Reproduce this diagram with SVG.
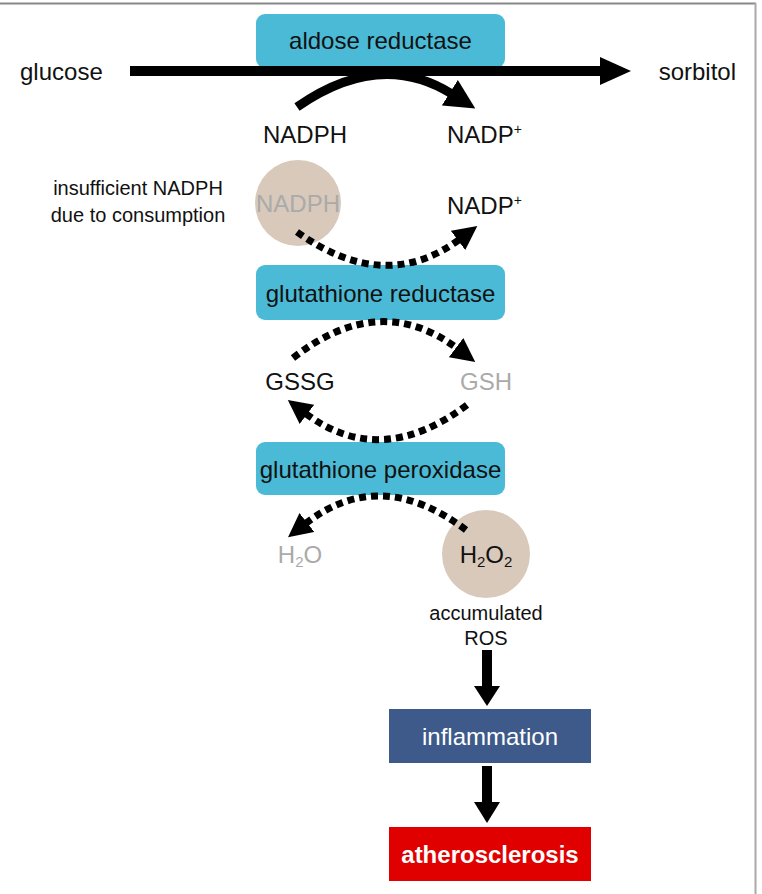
<svg xmlns="http://www.w3.org/2000/svg" width="762" height="894" viewBox="0 0 762 894">
<defs>
<style>
text{font-family:"Liberation Sans",Arial,sans-serif;fill:#111}
.lbl{font-size:24px}
.sm{font-size:20px}
.gray{fill:#aaa}
.enz{fill:#4bbad6}
.dot{fill:none;stroke:#000;stroke-width:7;stroke-dasharray:7 5}
.solid{fill:none;stroke:#000;stroke-width:9}
.circ{fill:#d8c9bb}
</style>
<marker id="ah" markerUnits="userSpaceOnUse" markerWidth="30" markerHeight="30" viewBox="0 0 24 24" refX="2" refY="12" orient="auto">
<path d="M0,0 L24,12 L0,24 z" fill="#000"/>
</marker>
<marker id="ahd" markerUnits="userSpaceOnUse" markerWidth="24" markerHeight="24" viewBox="0 0 20 20" refX="2" refY="10" orient="auto">
<path d="M0,0 L20,10 L0,20 z" fill="#000"/>
</marker>
</defs>
<rect width="762" height="894" fill="#fff"/>
<line x1="0" y1="3.5" x2="756" y2="3.5" stroke="#888" stroke-width="2"/>
<line x1="755.5" y1="3" x2="755.5" y2="894" stroke="#aaa" stroke-width="2"/>

<g id="aldose-reductase"><rect class="enz" x="256" y="14" width="249" height="54" rx="9"/><text class="lbl" x="380.5" y="49" text-anchor="middle">aldose reductase</text></g>
<g id="glucose"><text class="lbl" x="20" y="80">glucose</text></g>
<g id="sorbitol"><text class="lbl" x="736" y="80" text-anchor="end">sorbitol</text></g>
<g id="nadph1"><text class="lbl" x="305" y="143" text-anchor="middle">NADPH</text></g>
<g id="nadp1"><text class="lbl" x="447" y="143">NADP<tspan font-size="14" dy="-9">+</tspan></text></g>

<g id="nadph-circle"><circle class="circ" cx="298" cy="203" r="43"/><text class="lbl gray" x="298" y="212" text-anchor="middle">NADPH</text></g>
<g id="insufficient"><text class="sm" x="138" y="195" text-anchor="middle">insufficient NADPH</text><text class="sm" x="138" y="222" text-anchor="middle">due to consumption</text></g>
<g id="nadp2"><text class="lbl" x="447" y="214">NADP<tspan font-size="14" dy="-9">+</tspan></text></g>

<g id="glutathione-reductase"><rect class="enz" x="256" y="265" width="249" height="55" rx="9"/><text class="lbl" x="380.5" y="302" text-anchor="middle">glutathione reductase</text></g>
<g id="gssg"><text class="lbl" x="300" y="390" text-anchor="middle">GSSG</text></g>
<g id="gsh"><text class="lbl gray" x="486" y="390" text-anchor="middle">GSH</text></g>

<g id="glutathione-peroxidase"><rect class="enz" x="256" y="442" width="249" height="53" rx="9"/><text class="lbl" x="380.5" y="478" text-anchor="middle">glutathione peroxidase</text></g>
<g id="h2o"><text class="lbl gray" x="300" y="563" text-anchor="middle">H<tspan font-size="15" dy="4">2</tspan><tspan dy="-4">O</tspan></text></g>
<g id="h2o2"><circle class="circ" cx="486" cy="554" r="44"/><text class="lbl" x="486" y="563" text-anchor="middle">H<tspan font-size="15" dy="4">2</tspan><tspan dy="-4">O</tspan><tspan font-size="15" dy="4">2</tspan></text></g>
<g id="ros"><text class="sm" x="486" y="620" text-anchor="middle">accumulated</text><text class="sm" x="486" y="645" text-anchor="middle">ROS</text></g>

<g id="inflammation"><rect x="389" y="709" width="202" height="54" fill="#3d5a8a"/><text class="lbl" x="490" y="745" text-anchor="middle" style="fill:#fff">inflammation</text></g>
<g id="atherosclerosis"><rect x="389" y="827" width="202" height="54" fill="#e00000"/><text class="lbl" x="490" y="863" text-anchor="middle" font-weight="bold" style="fill:#fff">atherosclerosis</text></g>

<g id="connectors">
<line x1="130" y1="71" x2="602" y2="71" stroke="#000" stroke-width="10"/>
<polygon points="600,57 631,71 600,85" fill="#000"/>
<path class="solid" d="M297,107 Q380,49 452,94" marker-end="url(#ah)"/>
<path class="dot" d="M297,232 Q385,295 460,239" marker-end="url(#ahd)"/>
<path class="dot" d="M293,358 Q380,290 458,349" marker-end="url(#ahd)"/>
<path class="dot" d="M467,405 Q380,470 305,413" marker-end="url(#ahd)"/>
<path class="dot" d="M466,530 Q380,465 305,524" marker-end="url(#ahd)"/>
<line x1="487" y1="650" x2="487" y2="688" stroke="#000" stroke-width="10"/>
<polygon points="474,686 500,686 487,706" fill="#000"/>
<line x1="487" y1="766" x2="487" y2="804" stroke="#000" stroke-width="10"/>
<polygon points="474,802 500,802 487,823" fill="#000"/>
</g>
</svg>
